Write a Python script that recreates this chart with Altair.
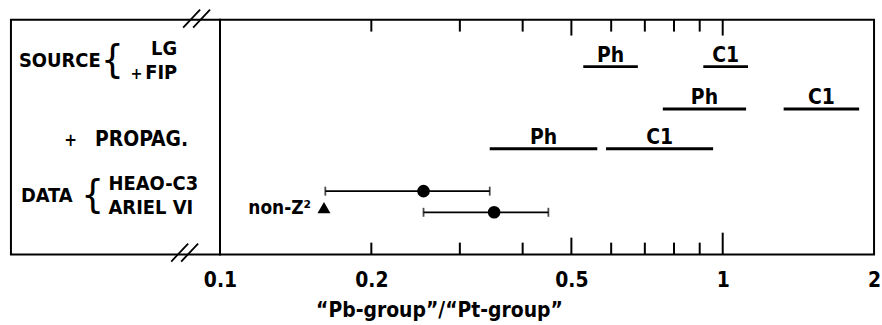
import altair as alt
import pandas as pd
import numpy as np

FONT = "DejaVu Sans Condensed"
FS = 21
LFS = 20

# ---- model ranges (rows: LG source, LG+FIP source, +propagation) ----
seg_labels = ["Ph", "C1", "Ph", "C1", "Ph", "C1"]
seg_lo = [0.528, 0.915, 0.760, 1.322, 0.344, 0.586]
seg_hi = [0.678, 1.123, 1.113, 1.868, 0.563, 0.957]
seg_row = [2.0, 2.0, 3.8, 3.8, 5.5, 5.5]

# ---- measurements ----
data_names = ["HEAO-C3", "ARIEL VI"]
data_val = [0.254, 0.351]
data_lo = [0.162, 0.254]
data_hi = [0.344, 0.450]
data_row = [7.3, 8.2]

nonz_val = [0.161]
nonz_row = [8.0]

tick_labels = [0.1, 0.2, 0.5, 1, 2]
minor_ticks = [0.2, 0.3, 0.4, 0.6, 0.7, 0.8, 0.9]
mid_tick = [0.5]
one_tick = [1.0]
top_major = [0.5, 1.0]

segs = pd.DataFrame({"label": seg_labels, "lo": seg_lo, "hi": seg_hi, "row": seg_row})
segs["mid"] = np.sqrt(segs["lo"] * segs["hi"])
meas = pd.DataFrame({"name": data_names, "val": data_val, "lo": data_lo, "hi": data_hi, "row": data_row})
nonz = pd.DataFrame({"val": nonz_val, "row": nonz_row})

W, H = 657, 236
LW = 210

xs = alt.Scale(type="log", domain=[0.1, 2])
ys = alt.Scale(domain=[0, 10], reverse=True)

xaxis = alt.Axis(values=tick_labels, format="~g", ticks=False, domain=False, grid=False,
                 labelFont=FONT, labelFontSize=FS, labelFontWeight="bold", labelColor="black",
                 labelPadding=15, labelFlush=False, labelOverlap=False,
                 title="\u201cPb-group\u201d/\u201cPt-group\u201d", titleFont=FONT, titleFontSize=FS,
                 titleFontWeight="bold", titleColor="black", titleX=220, titleY=56,
                 titleAnchor="middle", titleBaseline="middle")

X = lambda f, **k: alt.X(f, type="quantitative", scale=xs, **k)
Y = lambda f: alt.Y(f, type="quantitative", scale=ys, axis=None)

seg_base = alt.Chart(segs)
seg_lines = seg_base.mark_rule(strokeWidth=3, color="black").encode(
    x=X("lo", axis=xaxis), x2="hi", y=Y("row"))
seg_text = seg_base.mark_text(font=FONT, fontSize=FS, fontWeight="bold", color="black",
                              baseline="alphabetic", dy=-5).encode(
    x=X("mid"), y=Y("row"), text="label")

mb = alt.Chart(meas)
err = mb.mark_rule(strokeWidth=1.8, color="black").encode(x=X("lo"), x2="hi", y=Y("row"))
caps = mb.transform_fold(["lo", "hi"], as_=["end", "v"]).mark_tick(
    orient="vertical", size=9, thickness=1.8, color="black").encode(x=X("v:Q"), y=Y("row"))
dots = mb.mark_point(shape="circle", filled=True, size=160, color="black", opacity=1).encode(
    x=X("val"), y=Y("row"))

nb = alt.Chart(nonz)
tri = nb.mark_point(shape="triangle-up", filled=True, size=170, color="black", opacity=1).encode(
    x=X("val"), y=Y("row"))
tri_lab = nb.mark_text(font=FONT, fontSize=19, fontWeight="bold", color="black",
                       align="right", baseline="middle", dx=-13).encode(
    x=X("val"), y=Y("row"), text=alt.value("non-Z\u00b2"))

def ticks(vals, y0, y1):
    return alt.Chart(pd.DataFrame({"t": vals})).mark_rule(strokeWidth=2, color="black").encode(
        x=X("t"), y=alt.value(y0), y2=alt.value(y1))

right = alt.layer(
    seg_lines, seg_text, err, caps, dots, tri, tri_lab,
    ticks(minor_ticks, H, H - 12), ticks(mid_tick, H, H - 17), ticks(one_tick, H, H - 22),
    ticks(minor_ticks, 0, 12), ticks(top_major, 0, 16),
).properties(width=W, height=H)

dummy = alt.Chart(pd.DataFrame({"k": [0]}))

def txt(s, x, y, align="left", size=LFS, weight="bold"):
    return dummy.mark_text(font=FONT, fontSize=size, fontWeight=weight, color="black",
                           align=align, baseline="middle").encode(
        x=alt.value(x), y=alt.value(y), text=alt.value(s))

def line(x0, y0, x1, y1):
    return dummy.mark_rule(strokeWidth=1.8, color="black").encode(
        x=alt.value(x0), y=alt.value(y0), x2=alt.value(x1), y2=alt.value(y1))

left = alt.layer(
    txt("SOURCE", 8, 42),
    txt("{", 102, 42, align="center", size=40, weight="normal"),
    txt("LG", 167, 30, align="right"),
    txt("+", 126, 55, align="center", size=16),
    txt("FIP", 167, 54, align="right"),
    txt("+", 60, 122, align="center", size=17),
    txt("PROPAG.", 178, 121, align="right", size=21),
    txt("DATA", 10, 177),
    txt("{", 82, 177, align="center", size=40, weight="normal"),
    txt("HEAO-C3", 98, 165),
    txt("ARIEL VI", 98, 189),
    line(173, 8, 190, -10), line(183, 8, 200, -10),
    line(161, H + 7, 178, H - 11), line(171, H + 7, 188, H - 11),
).properties(width=LW, height=H)

chart = alt.hconcat(left, right, spacing=0, bounds="flush").properties(
    padding={"left": 10, "top": 7, "right": 0, "bottom": 0},
    background="white",
).configure_view(stroke="black", strokeWidth=2)

chart.save("out.html", embed_options={"renderer": "svg", "actions": False})
